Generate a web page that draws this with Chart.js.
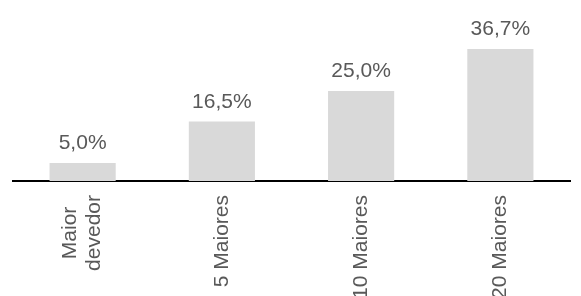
<!DOCTYPE html>
<html>
<head>
<meta charset="utf-8">
<script src="https://cdn.jsdelivr.net/npm/chart.js@4/dist/chart.umd.min.js"></script>
<style>
  html, body { margin: 0; padding: 0; background: #fff; }
  #wrap { width: 581px; height: 296px; }
</style>
</head>
<body>
<div id="wrap"><canvas id="debtChart"></canvas></div>
<script>
const categories = [['Maior', 'devedor'], '5 Maiores', '10 Maiores', '20 Maiores'];
const shares = [5.0, 16.5, 25.0, 36.7];

const FONT = '21px "Liberation Sans", Arial, sans-serif';
const TEXT_COLOR = '#595959';

// value labels above the bars, pt-BR style (comma decimal)
const valueLabels = {
    id: 'valueLabels',
    afterDatasetsDraw(chart) {
        const ctx = chart.ctx;
        const meta = chart.getDatasetMeta(0);
        ctx.save();
        ctx.font = FONT;
        ctx.fillStyle = TEXT_COLOR;
        ctx.textAlign = 'center';
        ctx.textBaseline = 'alphabetic';
        meta.data.forEach((bar, i) => {
            const txt = shares[i].toFixed(1).replace('.', ',') + '%';
            ctx.fillText(txt, bar.x, bar.y - 14);
        });
        ctx.restore();
    }
};

// vertical category labels, multi-line ones centred on the tick
const verticalLabels = {
    id: 'verticalLabels',
    afterDraw(chart) {
        const ctx = chart.ctx;
        const xScale = chart.scales.x;
        const lineHeight = 24;
        ctx.save();
        ctx.font = FONT;
        ctx.fillStyle = TEXT_COLOR;
        ctx.textBaseline = 'middle';
        ctx.textAlign = 'center';
        categories.forEach((label, i) => {
            const lines = Array.isArray(label) ? label : [label];
            const widest = Math.max(...lines.map(l => ctx.measureText(l).width));
            const x = xScale.getPixelForTick(i);
            ctx.save();
            ctx.translate(x, xScale.top + 14);
            ctx.rotate(-Math.PI / 2);
            lines.forEach((line, j) => {
                const offset = (j - (lines.length - 1) / 2) * lineHeight;
                ctx.fillText(line, -widest / 2, offset);
            });
            ctx.restore();
        });
        ctx.restore();
    }
};

const ctx = document.getElementById('debtChart').getContext('2d');
const myChart = new Chart(ctx, {
    type: 'bar',
    data: {
        labels: categories,
        datasets: [{
            data: shares,
            backgroundColor: '#d9d9d9',
            borderWidth: 0,
            categoryPercentage: 1,
            barPercentage: 0.475
        }]
    },
    options: {
        animation: false,
        responsive: true,
        maintainAspectRatio: false,
        layout: {
            padding: { top: 1, left: 13, right: 11, bottom: 0 }
        },
        plugins: {
            legend: { display: false },
            tooltip: { enabled: false }
        },
        scales: {
            x: {
                grid: { display: false, drawTicks: false },
                border: { display: true, color: '#000', width: 2 },
                ticks: { display: false },
                afterFit: function(scale) {
                    scale.height = 115;
                }
            },
            y: {
                display: false,
                min: 0,
                max: 50
            }
        }
    },
    plugins: [valueLabels, verticalLabels]
});
</script>
</body>
</html>
